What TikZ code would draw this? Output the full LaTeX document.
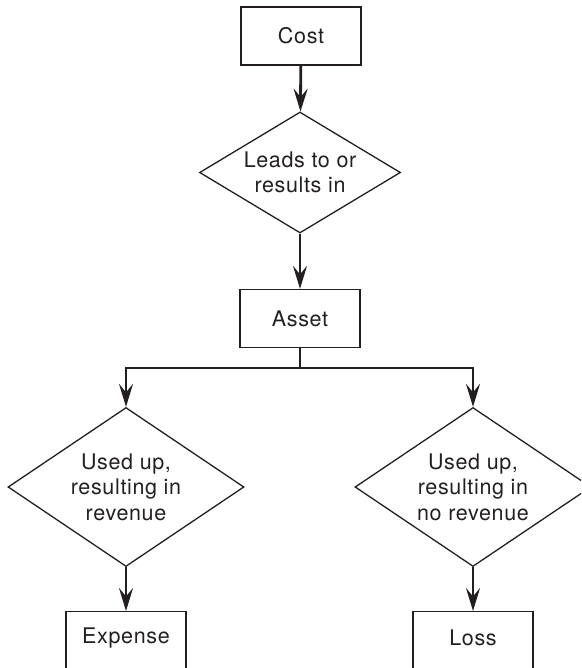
\documentclass[tikz,border=0pt]{standalone}
\usepackage{fontspec}
\setmainfont{TeX Gyre Heros}[LetterSpace=3]
\usetikzlibrary{shapes.geometric,arrows.meta}
\definecolor{ink}{HTML}{231F20}
\begin{document}
\begin{tikzpicture}[x=1pt,y=-1pt,
  every node/.style={font=\fontsize{21.5}{25.5}\selectfont, text=ink, align=center},
  box/.style={draw=ink, line width=1.3pt, minimum width=120pt, minimum height=58pt, inner sep=0pt},
  decision/.style={diamond, draw=ink, line width=1.3pt, inner sep=0pt},
  trunk/.style={draw=ink, line width=2.8pt},
  flow/.style={draw=ink, line width=2.8pt, -{Stealth[length=23pt,width=14pt,inset=8.5pt]}}]
\useasboundingbox (0,0) rectangle (581,668);
\clip (0,0) rectangle (581,668);
\node[box] (cost) at (301,36) {Cost};
\node[decision, shape aspect=1.66, minimum width=201pt, minimum height=121pt] (lead) at (300,172.5) {Leads to or\\results in};
\node[box] (asset) at (300,318.5) {Asset};
\node[decision, shape aspect=1.48, minimum width=236pt, minimum height=159pt] (ld) at (126,487) {Used up,\\resulting in\\revenue};
\node[decision, shape aspect=1.48, minimum width=236pt, minimum height=159pt] (rd) at (473,487) {Used up,\\resulting in\\no revenue};
\node[box, minimum height=80pt, anchor=north] (exp) at (126,611) {};
\node[box, minimum height=80pt, anchor=north] (loss) at (473,611) {};
\node (expt) at (126,638) {Expense};
\node (losst) at (473,638) {Loss};
\coordinate (j) at (300,368);
\draw[flow] (cost) -- (lead);
\draw[flow] (lead) -- (asset);
\draw[trunk] (asset.south) -- (j);
\draw[flow] (j) -| (ld.north);
\draw[flow] (j) -| (rd.north);
\draw[flow] (ld) -- (exp);
\draw[flow] (rd) -- (loss);
\end{tikzpicture}
\end{document}
